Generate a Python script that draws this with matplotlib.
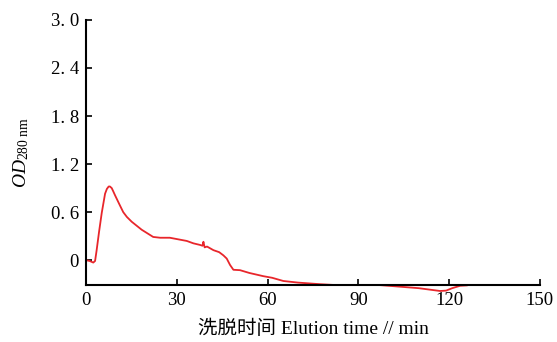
import numpy as np
import matplotlib.pyplot as plt

plt.rcParams['font.family'] = ['Liberation Serif', 'Noto Sans CJK SC']
plt.rcParams['mathtext.fontset'] = 'custom'
plt.rcParams['mathtext.it'] = 'Liberation Serif:italic'
plt.rcParams['mathtext.rm'] = 'Liberation Serif'

# elution profile
t = [0, 1.2, 2.4, 3.0, 3.5, 4.3, 5.2, 6.3, 6.9, 7.5, 7.9, 8.5, 9.0, 9.6, 11.0,
     12.3, 13.5, 15.1, 18.4, 22.2, 24.5, 27.7, 30.5, 33.3, 35.5, 37.7, 38.5,
     38.8, 39.2, 40.0, 42.1, 44.0, 45.4, 46.5, 47.6, 48.7, 50.9, 54.0, 58.6,
     61.5, 65.2, 70.0, 77.3, 82.0, 88.0, 91.5]
od = [0.0, -0.01, -0.03, -0.01, 0.12, 0.35, 0.59, 0.83, 0.89, 0.92, 0.92,
      0.9, 0.86, 0.81, 0.7, 0.6, 0.54, 0.48, 0.38, 0.29, 0.28, 0.28, 0.26,
      0.24, 0.21, 0.19, 0.18, 0.23, 0.16, 0.17, 0.125, 0.1, 0.06, 0.02, -0.06,
      -0.12, -0.125, -0.16, -0.2, -0.22, -0.26, -0.28, -0.3, -0.31, -0.31,
      -0.31]
t2 = [96.6, 100.0, 105.0, 110.0, 114.0, 117.0, 119.0, 121.0, 123.6, 125.8]
od2 = [-0.31, -0.32, -0.335, -0.35, -0.37, -0.385, -0.38, -0.35, -0.32, -0.315]

xticks = [0, 30, 60, 90, 120, 150]
yticks = [0, 0.6, 1.2, 1.8, 2.4, 3.0]
ylabels = ['0', '0. 6', '1. 2', '1. 8', '2. 4', '3. 0']

fig = plt.figure(figsize=(5.57, 3.42), dpi=100)
ax = fig.add_axes([0.1544, 0.1667, 0.815, 0.775])

ax.plot(t, od, color='#e8262b', lw=1.3, clip_on=False)
ax.plot(t2, od2, color='#e8262b', lw=1.3, clip_on=False)

ax.set_xlim(0, 150)
ax.set_ylim(-0.31, 3.0)
ax.set_xticks(xticks)
ax.set_xticklabels([str(v) for v in xticks])
ax.set_yticks(yticks)
ax.set_yticklabels(ylabels)
ax.tick_params(direction='in', length=4, width=1.2, labelsize=13.5, pad=5)
for s in ['top', 'right']:
    ax.spines[s].set_visible(False)
for s in ['left', 'bottom']:
    ax.spines[s].set_linewidth(1.5)

ax.set_xlabel('洗脱时间 Elution time // min', fontsize=14, labelpad=8)
ax.set_ylabel(r'$OD_{280\ \mathrm{nm}}$', fontsize=14, labelpad=14)

fig.savefig('out.png', dpi=100)
